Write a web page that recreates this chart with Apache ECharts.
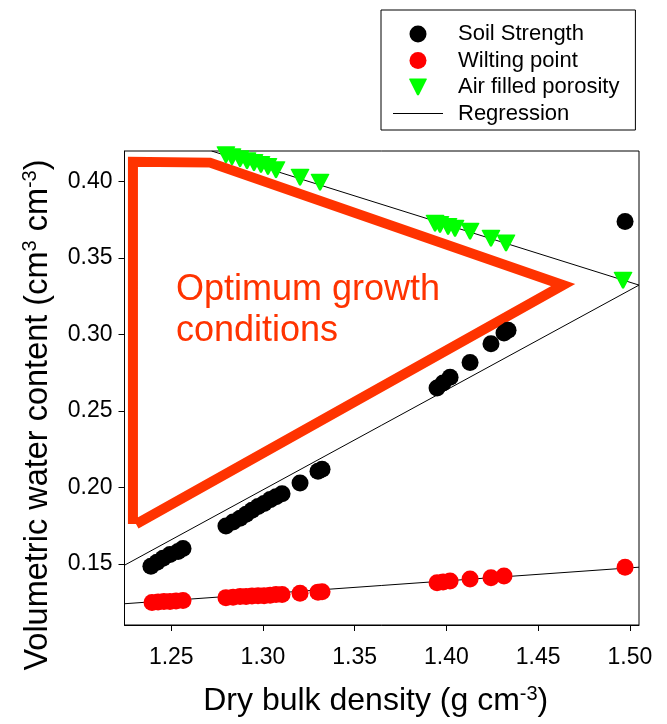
<!DOCTYPE html>
<html><head><meta charset="utf-8">
<script src="https://cdn.jsdelivr.net/npm/echarts@6/dist/echarts.min.js"></script>
<style>html,body{margin:0;padding:0;background:#fff}#c{width:667px;height:724px}</style>
</head><body><div id="c"></div>
<script>
const FONT = '"Liberation Sans", Arial, sans-serif';
const xTicks = [1.25, 1.30, 1.35, 1.40, 1.45, 1.50];
const yTicks = [0.15, 0.20, 0.25, 0.30, 0.35, 0.40];

const soilStrength = [
  [1.2389,0.1484],[1.2422,0.1510],[1.2455,0.1536],[1.2493,0.1561],[1.2537,0.1580],[1.2564,0.1600],
  [1.2798,0.1747],[1.2837,0.1773],[1.2875,0.1798],[1.2908,0.1824],[1.2940,0.1850],[1.2973,0.1875],
  [1.3006,0.1894],[1.3039,0.1920],[1.3071,0.1939],[1.3104,0.1958],[1.3202,0.2029],[1.3300,0.2106],[1.3322,0.2119],
  [1.3949,0.2650],[1.3982,0.2682],[1.4020,0.2721],[1.4129,0.2817],[1.4243,0.2939],[1.4314,0.3009],[1.4336,0.3028],
  [1.4974,0.3739]
];
const wiltingPoint = [
  [1.2395,0.1247],[1.2428,0.1251],[1.2460,0.1254],[1.2493,0.1254],[1.2526,0.1257],[1.2564,0.1260],
  [1.2798,0.1279],[1.2837,0.1282],[1.2875,0.1286],[1.2908,0.1286],[1.2940,0.1289],[1.2973,0.1292],
  [1.3006,0.1292],[1.3039,0.1295],[1.3071,0.1299],[1.3104,0.1299],[1.3202,0.1308],[1.3300,0.1315],[1.3322,0.1318],
  [1.3949,0.1377],[1.3982,0.1382],[1.4020,0.1388],[1.4129,0.1401],[1.4243,0.1409],[1.4314,0.1420],
  [1.4974,0.1478]
];
const airFilledPorosity = [
  [1.2798,0.4175],[1.2831,0.4162],[1.2875,0.4149],[1.2913,0.4136],[1.2951,0.4124],[1.2989,0.4111],
  [1.3027,0.4098],[1.3071,0.4078],[1.3202,0.4028],[1.3311,0.3996],
  [1.3938,0.3727],[1.3965,0.3720],[1.4009,0.3707],[1.4047,0.3694],[1.4129,0.3675],[1.4243,0.3630],[1.4325,0.3598],
  [1.4963,0.3355]
];
const regSoil = [[1.2245,0.1491],[1.505,0.3323]];
const regWilt = [[1.2245,0.1239],[1.505,0.1478]];
const regAir  = [[1.272,0.4200],[1.505,0.3323]];
const optimumZone = [[1.2291,0.1760],[1.2291,0.4130],[1.2711,0.4124],[1.4636,0.3323],[1.2308,0.1760]];

const chart = echarts.init(document.getElementById('c'), null, {renderer:'canvas'});
const regLine = (d) => ({
  name:'Regression', type:'line', data:d, symbol:'none', silent:true, z:2,
  lineStyle:{color:'#000', width:1}, itemStyle:{color:'#000'}
});
chart.setOption({
  animation:false,
  textStyle:{fontFamily:FONT},
  grid:{left:124.5, right:28, top:151, bottom:89, show:true, borderColor:'#000', borderWidth:1, backgroundColor:'transparent'},
  xAxis:{
    type:'value', min:1.2245, max:1.505,
    axisLine:{show:true, lineStyle:{color:'#000', width:1}},
    axisTick:{show:true, inside:false, length:6, customValues:xTicks, lineStyle:{color:'#000'}},
    axisLabel:{customValues:xTicks, formatter:v=>v.toFixed(2), fontSize:23, color:'#000', fontFamily:FONT, margin:21},
    splitLine:{show:false},
    name:'Dry bulk density (g cm{sup|-3})', nameLocation:'middle', nameGap:59,
    nameTextStyle:{fontSize:32, color:'#000', fontFamily:FONT, lineHeight:35, padding:[0,12,0,0],
      rich:{sup:{fontSize:20, verticalAlign:'top', lineHeight:35, color:'#000', fontFamily:FONT}}}
  },
  yAxis:{
    type:'value', min:0.11, max:0.42,
    axisLine:{show:true, lineStyle:{color:'#000', width:1}},
    axisTick:{show:true, inside:false, length:6, customValues:yTicks, lineStyle:{color:'#000'}},
    axisLabel:{customValues:yTicks, formatter:v=>v.toFixed(2), fontSize:23, color:'#000', fontFamily:FONT, margin:12},
    splitLine:{show:false},
    name:'Volumetric water content (cm{sup|3} cm{sup|-3})', nameLocation:'middle', nameGap:69,
    nameTextStyle:{fontSize:32.5, color:'#000', fontFamily:FONT, lineHeight:35, padding:[0,54,0,0],
      rich:{sup:{fontSize:20, verticalAlign:'top', lineHeight:35, color:'#000', fontFamily:FONT}}}
  },
  legend:{
    orient:'vertical', left:381, top:10,
    padding:[13,16,5.5,12],
    borderColor:'#000', borderWidth:1,
    itemWidth:50, itemHeight:17, itemGap:4.5,
    selectedMode:false,
    textStyle:{fontFamily:FONT, fontSize:22, color:'#000', lineHeight:22, padding:[0,0,0,10]},
    data:[
      {name:'Soil Strength', icon:'circle'},
      {name:'Wilting point', icon:'circle'},
      {name:'Air filled porosity', icon:'path://M1,1 Q0,0 2,0 L18,0 Q20,0 19,1 L11,17 Q10,18 9,17 Z'},
      {name:'Regression', icon:'path://M0,0 L100,0 L100,2 L0,2 Z'}
    ]
  },
  graphic:[
    {type:'text', left:176, top:270, silent:true,
      style:{text:'Optimum growth\nconditions', fill:'#FF3300', font:'36px "Liberation Sans", Arial, sans-serif', lineHeight:41}}
  ],
  series:[
    {name:'Optimum zone', type:'line', data:optimumZone, symbol:'none', silent:true, z:1,
      lineStyle:{color:'#FF3300', width:10, join:'miter', cap:'butt'}},
    regLine(regSoil), regLine(regWilt), regLine(regAir),
    {name:'Soil Strength', type:'scatter', data:soilStrength, symbol:'circle', symbolSize:17, z:3,
      itemStyle:{color:'#000000', opacity:1}},
    {name:'Wilting point', type:'scatter', data:wiltingPoint, symbol:'circle', symbolSize:17, z:3,
      itemStyle:{color:'#FF0000', opacity:1}},
    {name:'Air filled porosity', type:'scatter', data:airFilledPorosity,
      symbol:'path://M1,1 Q0,0 2,0 L18,0 Q20,0 19,1 L11,17 Q10,18 9,17 Z', symbolSize:[19,17], z:3,
      itemStyle:{color:'#00FF00', opacity:1}}
  ]
});
</script></body></html>
